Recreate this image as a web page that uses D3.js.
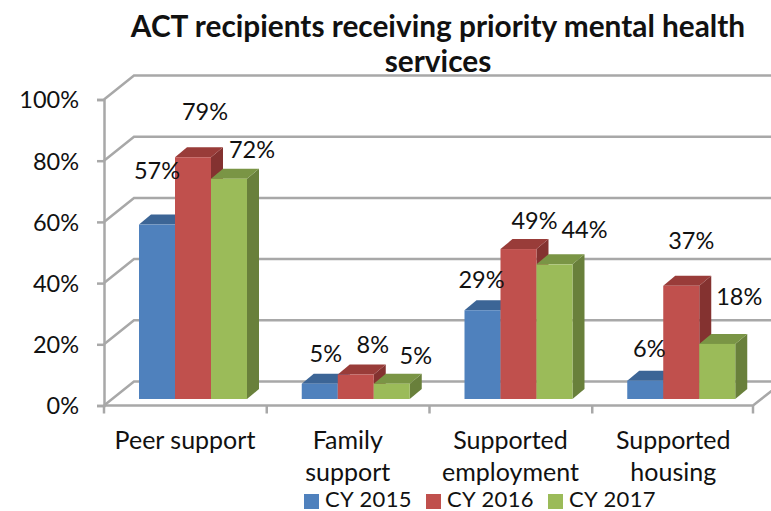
<!DOCTYPE html>
<html><head><meta charset="utf-8">
<script src="https://cdn.jsdelivr.net/npm/d3@7"></script>
<style>html,body{margin:0;padding:0;background:#fff}svg{display:block}text{font-family:Lato,"Open Sans",sans-serif;fill:#111}</style>
</head><body><svg width="771" height="511"></svg>
<script>
const categories = [["Peer support"],["Family","support"],["Supported","employment"],["Supported","housing"]];
const seriesNames = ["CY 2015","CY 2016","CY 2017"];
const cy2015 = [57,5,29,6];
const cy2016 = [79,8,49,37];
const cy2017 = [72,5,44,18];
const yTicks = [0,20,40,60,80,100];
const titleLines = ["ACT recipients receiving priority mental health","services"];

const seriesValues = [cy2015,cy2016,cy2017];
const faceColors = ["#4f81bd","#c0504d","#9bbb59"];
const topColors = ["#3c6596","#993c39","#7a9545"];
const sideColors = ["#33567f","#843230","#69803b"];
const gridColor = "#a8a8a8";
// nudges of value labels relative to bar top centre [series][category]
const nudges = [
 [[0,-54],[6,-30],[-1,-31],[4,-32]],
 [[12,-46],[17,-30],[16,-29],[10,-45]],
 [[23,-29],[24,-28],[30,-35],[22,-47]]
];

const svg = d3.select("svg");
const W=104,E=753,B=405.5,T=99.5,DX=30,DY=24;
const y = d3.scaleLinear().domain([0,100]).range([B,T]);
const x = d3.scaleBand().domain(categories.map((d,i)=>i)).range([W,E+2]).padding(0);
const g = d3.scaleBand().domain(seriesNames).range([35,143]).padding(0);
const barBase = -6.5, bdx=12, bdy=10;

// walls
const walls = svg.append("g").attr("fill","none").attr("stroke",gridColor).attr("stroke-width",2.5);
yTicks.forEach(t=>{
  const v=y(t);
  walls.append("path").attr("d",`M${W},${v}L${W+DX},${v-DY}L790,${v-DY}`);
});
walls.append("path").attr("d",`M${W},${B}L${E},${B}L790,${B-29}`);

// axes
const ax = svg.append("g").attr("transform",`translate(${W},0)`)
  .call(d3.axisLeft(y).tickValues(yTicks).tickSize(7).tickFormat(d=>d+"%"));
ax.selectAll("path,line").attr("stroke",gridColor).attr("stroke-width",2.5);
ax.selectAll("text").attr("font-size",23.5).attr("x",-25).attr("dy","0.36em");
const tickXs = categories.map((c,i)=>x(i)).concat([E]);
svg.selectAll(".ct").data(tickXs).enter().append("line").attr("class","ct")
  .attr("x1",d=>d).attr("x2",d=>d).attr("y1",B).attr("y2",B+8).attr("stroke",gridColor).attr("stroke-width",2.5);

// bars
const bars = svg.append("g");
categories.forEach((c,ci)=>{
  seriesNames.forEach((s,si)=>{
    const v=seriesValues[si][ci];
    const x0=x(ci)+g(s), w=g.bandwidth(), yb=B+barBase;
    const top=yb-(B-y(v));
    const b=bars.append("g");
    b.append("path").attr("fill",sideColors[si]).attr("d",`M${x0+w},${top}L${x0+w+bdx},${top-bdy}L${x0+w+bdx},${yb-bdy}L${x0+w},${yb}Z`);
    b.append("path").attr("fill",topColors[si]).attr("d",`M${x0},${top}L${x0+bdx},${top-bdy}L${x0+w+bdx},${top-bdy}L${x0+w},${top}Z`);
    b.append("rect").attr("fill",faceColors[si]).attr("x",x0).attr("y",top).attr("width",w).attr("height",yb-top);
  });
});
// value labels
categories.forEach((c,ci)=>{
  seriesNames.forEach((s,si)=>{
    const v=seriesValues[si][ci];
    const top=B+barBase-(B-y(v));
    const n=nudges[si][ci];
    svg.append("text").attr("x",x(ci)+g(s)+g.bandwidth()/2+n[0]).attr("y",top+n[1])
      .attr("text-anchor","middle").attr("dy","0.36em").attr("font-size",23.5).text(v+"%");
  });
});
// category labels
categories.forEach((c,ci)=>{
  c.forEach((l,li)=>{
    svg.append("text").attr("x",x(ci)+81).attr("y",449+li*32).attr("text-anchor","middle").attr("font-size",25).text(l);
  });
});
// title
titleLines.forEach((l,i)=>{
  svg.append("text").attr("x",438).attr("y",37+i*35).attr("text-anchor","middle").attr("font-size",29.8).attr("font-weight",700).text(l);
});
// legend
const legendX=[304,426,548];
seriesNames.forEach((s,i)=>{
  svg.append("rect").attr("x",legendX[i]).attr("y",494).attr("width",15).attr("height",15).attr("fill",faceColors[i]);
  svg.append("text").attr("x",legendX[i]+21).attr("y",506.5).attr("font-size",22).attr("letter-spacing",0.4).text(s);
});
</script></body></html>
